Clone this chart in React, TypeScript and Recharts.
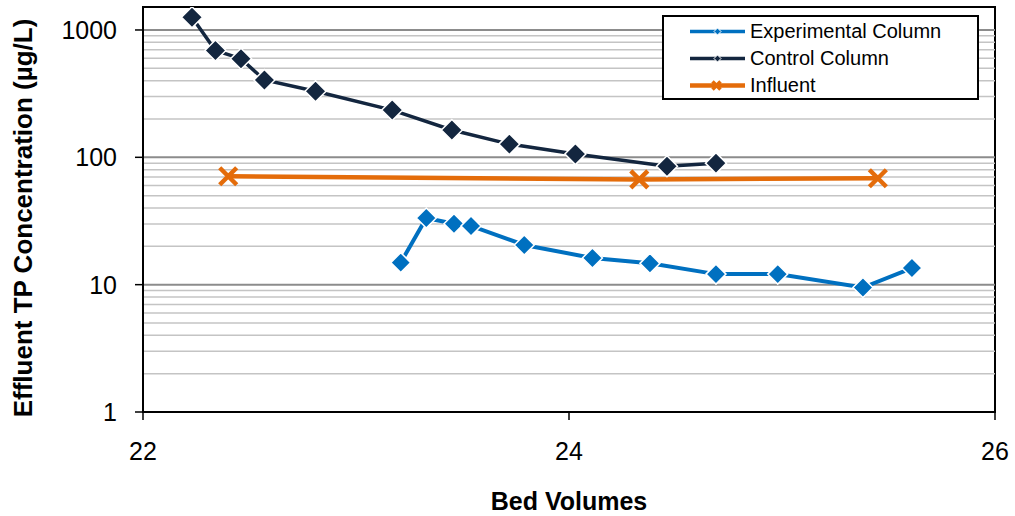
import React from "react";
import { LineChart, Line, XAxis, YAxis, ReferenceLine, ReferenceArea, Legend, Label } from "recharts";

// bed volumes (x) and effluent TP in ug/L (y)
const controlBV = [22.23, 22.34, 22.46, 22.57, 22.81, 23.17, 23.45, 23.72, 24.03, 24.46, 24.69];
const controlTP = [1260, 690, 595, 405, 330, 235, 164, 127, 106, 85, 90];

const expBV = [23.21, 23.33, 23.46, 23.54, 23.79, 24.11, 24.38, 24.69, 24.98, 25.38, 25.61];
const expTP = [14.9, 33.4, 30.1, 28.9, 20.5, 16.2, 14.7, 12.1, 12.1, 9.5, 13.5];

const influentBV = [22.4, 24.33, 25.45];
const influentTP = [71, 67, 68.5];

const xTicks = [22, 24, 26];
const yTicks = [1, 10, 100, 1000];
const majorGrid = [10, 100, 1000];
const minorGrid = [2, 3, 4, 5, 6, 7, 8, 9, 20, 30, 40, 50, 60, 70, 80, 90, 200, 300, 400, 500, 600, 700, 800, 900];

const seriesNames = ["Experimental Column", "Control Column", "Influent"];

const BLUE = "#0070C0";
const NAVY = "#13263F";
const ORANGE = "#E46C0A";
const FONT = "'Liberation Sans', Arial, sans-serif";
const Y_MAX = 1515;

const toPoints = (xs: number[], ys: number[]) => xs.map((x, i) => ({ x, y: ys[i] }));

const expData = toPoints(expBV, expTP);
const controlData = toPoints(controlBV, controlTP);
const influentData = toPoints(influentBV, influentTP);

const diamond = (color: string, r: number) => (props: any) => {
  const { cx, cy, index } = props;
  if (cx == null || cy == null) return <g key={index} />;
  return (
    <path
      key={index}
      d={`M${cx},${cy - r}L${cx + r},${cy}L${cx},${cy + r}L${cx - r},${cy}Z`}
      fill={color}
      stroke="#fff"
      strokeWidth={1.5}
    />
  );
};

const cross = (color: string, r: number) => (props: any) => {
  const { cx, cy, index } = props;
  if (cx == null || cy == null) return <g key={index} />;
  return (
    <path
      key={index}
      d={`M${cx - r},${cy - r}L${cx + r},${cy + r}M${cx - r},${cy + r}L${cx + r},${cy - r}`}
      stroke={color}
      strokeWidth={4.5}
      fill="none"
    />
  );
};

const LegendBox = () => {
  const colors = [BLUE, NAVY, ORANGE];
  return (
    <div
      style={{
        border: "2px solid #000",
        background: "#fff",
        width: 313,
        height: 81,
        boxSizing: "content-box",
        fontFamily: FONT,
        fontSize: 20,
        color: "#000",
      }}
    >
      {seriesNames.map((name, i) => (
        <div key={name} style={{ display: "flex", alignItems: "center", height: 27, marginTop: i === 0 ? 1 : 0 }}>
          <svg width={84} height={27} style={{ display: "block" }}>
            <line x1={26} x2={81} y1={13.5} y2={13.5} stroke={colors[i]} strokeWidth={i === 2 ? 4.5 : 3.5} />
            {i < 2 ? (
              <path d="M53.5,10L57,13.5L53.5,17L50,13.5Z" fill={colors[i]} stroke="#fff" strokeWidth={1} />
            ) : (
              <path d="M48.5,9.5L56.5,17.5M48.5,17.5L56.5,9.5" stroke={colors[i]} strokeWidth={3.5} />
            )}
          </svg>
          <span style={{ marginLeft: 2, whiteSpace: "nowrap" }}>{name}</span>
        </div>
      ))}
    </div>
  );
};

export default function App() {
  return (
    <div style={{ position: "absolute", left: 0, top: 0, width: 1015, height: 516, background: "#fff" }}>
      <LineChart width={1015} height={516} margin={{ top: 7, right: 20, bottom: 0, left: 0 }}>
        <XAxis
          type="number"
          dataKey="x"
          domain={[22, 26]}
          ticks={xTicks}
          allowDataOverflow
          height={104}
          axisLine={{ stroke: "#000", strokeWidth: 2 }}
          tickLine={{ stroke: "#000", strokeWidth: 1.5 }}
          tickSize={8}
          tickMargin={22}
          tick={{ fill: "#000", fontSize: 25, fontFamily: FONT }}
        >
          <Label
            content={() => (
              <text x={569} y={510} textAnchor="middle" fontFamily={FONT} fontSize={25} fontWeight="bold" fill="#000">
                Bed Volumes
              </text>
            )}
          />
        </XAxis>
        <YAxis
          type="number"
          scale="log"
          domain={[1, Y_MAX]}
          ticks={yTicks}
          allowDataOverflow
          width={143}
          axisLine={{ stroke: "#000", strokeWidth: 2 }}
          tickLine={{ stroke: "#000", strokeWidth: 1.5 }}
          tickSize={8}
          tickMargin={18}
          tick={{ fill: "#000", fontSize: 25, fontFamily: FONT }}
        >
          <Label
            content={() => (
              <text
                transform="translate(32, 218) rotate(-90)"
                textAnchor="middle"
                fontFamily={FONT}
                fontSize={26}
                fontWeight="bold"
                fill="#000"
              >
                Effluent TP Concentration (µg/L)
              </text>
            )}
          />
        </YAxis>
        {minorGrid.map((v) => (
          <ReferenceLine key={`mn${v}`} y={v} stroke="#c4c4c4" strokeWidth={1.5} />
        ))}
        {majorGrid.map((v) => (
          <ReferenceLine key={`mj${v}`} y={v} stroke="#8c8c8c" strokeWidth={2} />
        ))}
        <ReferenceArea x1={22} x2={26} y1={1} y2={Y_MAX} fill="none" fillOpacity={0} stroke="#000" strokeWidth={2} />
        <Legend
          layout="vertical"
          align="center"
          verticalAlign="middle"
          wrapperStyle={{ left: 662, top: 15, width: 317, height: 85 }}
          content={() => <LegendBox />}
        />
        <Line
          data={expData}
          dataKey="y"
          name={seriesNames[0]}
          stroke={BLUE}
          strokeWidth={4}
          dot={diamond(BLUE, 10)}
          activeDot={false}
          isAnimationActive={false}
        />
        <Line
          data={controlData}
          dataKey="y"
          name={seriesNames[1]}
          stroke={NAVY}
          strokeWidth={3.5}
          dot={diamond(NAVY, 10.5)}
          activeDot={false}
          isAnimationActive={false}
        />
        <Line
          data={influentData}
          dataKey="y"
          name={seriesNames[2]}
          stroke={ORANGE}
          strokeWidth={4.5}
          dot={cross(ORANGE, 8.5)}
          activeDot={false}
          isAnimationActive={false}
        />
      </LineChart>
    </div>
  );
}
